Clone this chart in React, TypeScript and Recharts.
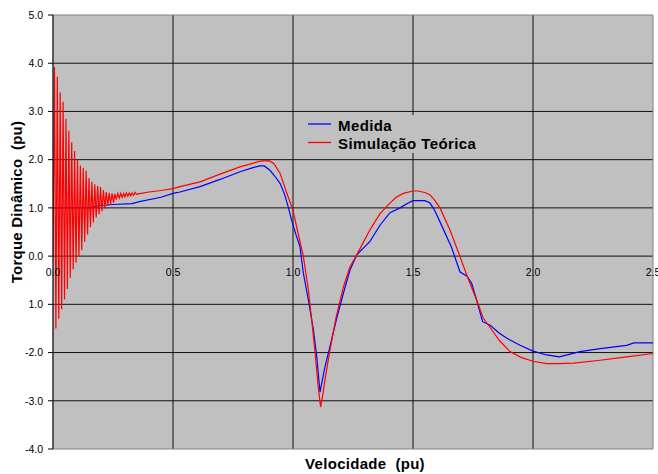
import React from "react";
import {
  LineChart,
  Line,
  XAxis,
  YAxis,
  CartesianGrid,
  ReferenceArea,
  Legend,
  Label,
} from "recharts";

// Velocidade (pu) x torque (pu)
const medida: [number, number][] = [
  [0, 1.0], [0.154, 1.0], [0.196, 1.05], [0.25, 1.07], [0.33, 1.09], [0.36, 1.13],
  [0.45, 1.22], [0.5, 1.3], [0.529, 1.33], [0.6125, 1.44], [0.696, 1.59], [0.779, 1.75],
  [0.83, 1.83], [0.8625, 1.87], [0.88, 1.87], [0.904, 1.78], [0.93, 1.62], [0.946, 1.51],
  [0.965, 1.28], [0.98, 1.02], [0.994, 0.75], [1.012, 0.45], [1.029, 0.2], [1.043, -0.35],
  [1.064, -0.91], [1.085, -1.53], [1.099, -2.09], [1.1125, -2.82], [1.133, -2.3],
  [1.154, -1.88], [1.18, -1.33], [1.21, -0.77], [1.2375, -0.29], [1.265, 0.02],
  [1.29, 0.15], [1.32, 0.3], [1.3625, 0.64], [1.404, 0.9], [1.446, 1.0], [1.48, 1.1],
  [1.5, 1.15], [1.55, 1.15], [1.571, 1.1], [1.59, 0.95], [1.6125, 0.71], [1.66, 0.19],
  [1.696, -0.33], [1.724, -0.41], [1.744, -0.56], [1.765, -0.91], [1.79, -1.36],
  [1.82, -1.43], [1.86, -1.6], [1.89, -1.7], [1.946, -1.85], [2.0, -1.97], [2.057, -2.05],
  [2.11, -2.09], [2.196, -1.98], [2.28, -1.92], [2.39, -1.85], [2.42, -1.8], [2.5, -1.8],
];

// partida: oscilação amortecida do torque simulado
const simulacaoPartida: [number, number][] = [
  [0, 0.0], [0.006, 3.92], [0.012, -1.5], [0.018, 3.72], [0.024, -1.3], [0.03, 3.4],
  [0.036, -1.1], [0.042, 3.2], [0.048, -0.9], [0.054, 2.85], [0.06, -0.68], [0.066, 2.6],
  [0.072, -0.45], [0.078, 2.36], [0.084, -0.28], [0.09, 2.18], [0.096, -0.14], [0.102, 2.0],
  [0.108, 0.0], [0.114, 1.88], [0.12, 0.12], [0.126, 1.83], [0.132, 0.3], [0.138, 1.77],
  [0.144, 0.45], [0.15, 1.62], [0.156, 0.6], [0.162, 1.54], [0.168, 0.7], [0.174, 1.49],
  [0.18, 0.8], [0.186, 1.46], [0.192, 0.87], [0.198, 1.43], [0.204, 0.93], [0.21, 1.37],
  [0.216, 0.99], [0.222, 1.33], [0.228, 1.04], [0.234, 1.31], [0.24, 1.08], [0.246, 1.3],
  [0.252, 1.11], [0.258, 1.29], [0.264, 1.17], [0.27, 1.3], [0.276, 1.2], [0.282, 1.3],
  [0.288, 1.22], [0.294, 1.3], [0.3, 1.23], [0.306, 1.31], [0.312, 1.24], [0.318, 1.31],
  [0.324, 1.25], [0.33, 1.31], [0.336, 1.26], [0.342, 1.32], [0.348, 1.28],
];

const simulacaoRegime: [number, number][] = [
  [0.354, 1.29], [0.4, 1.33], [0.45, 1.36], [0.5, 1.4], [0.529, 1.44], [0.6125, 1.54],
  [0.696, 1.7], [0.779, 1.85], [0.8625, 1.97], [0.9, 1.98], [0.92, 1.92], [0.946, 1.72],
  [0.974, 1.31], [1.0, 0.95], [1.02, 0.5], [1.043, 0.0], [1.064, -0.7], [1.078, -1.33],
  [1.092, -2.0], [1.105, -2.71], [1.115, -3.13], [1.125, -2.85], [1.133, -2.57],
  [1.154, -1.95], [1.18, -1.26], [1.21, -0.64], [1.2375, -0.22], [1.265, 0.02], [1.32, 0.54],
  [1.3625, 0.88], [1.404, 1.1], [1.43, 1.22], [1.46, 1.3], [1.5, 1.35], [1.52, 1.35],
  [1.55, 1.32], [1.571, 1.27], [1.59, 1.16], [1.6125, 1.0], [1.654, 0.54], [1.696, -0.01],
  [1.724, -0.39], [1.765, -0.91], [1.793, -1.29], [1.82, -1.47], [1.86, -1.75],
  [1.904, -1.98], [1.95, -2.1], [2.0, -2.18], [2.057, -2.23], [2.1, -2.23], [2.17, -2.22],
  [2.28, -2.16], [2.39, -2.09], [2.5, -2.02],
];

const xTicks = [0, 0.5, 1.0, 1.5, 2.0, 2.5];
const yTicks = [-4, -3, -2, -1, 0, 1, 2, 3, 4, 5];
const yTickLabels = ["-4.0", "-3.0", "-2.0", "1.0", "0.0", "1.0", "2.0", "3.0", "4.0", "5.0"];
const gridX = [0.5, 1.0, 1.5, 2.0];
const gridY = [-3, -2, -1, 0, 1, 2, 3, 4];

const W = 658;
const H = 474;
const TOP = 15;
const BOTTOM = 25;
const Y_MIN = -4;
const Y_MAX = 5;
const PLOT_H = H - TOP - BOTTOM;
const ZERO_Y = TOP + (PLOT_H * Y_MAX) / (Y_MAX - Y_MIN);

const FONT = '"Liberation Sans", Arial, sans-serif';

const toPoints = (rows: [number, number][]) => rows.map(([x, y]) => ({ x, y }));

// rótulos do eixo X ficam junto da linha do zero, como no Excel
const XTick = (props: any) => (
  <text x={props.x} y={ZERO_Y + 20} textAnchor="middle" fontFamily={FONT} fontSize={10.5} fill="#000">
    {Number(props.payload.value).toFixed(1)}
  </text>
);

const LegendBox = () => (
  <svg width={180} height={38} style={{ display: "block", background: "#C0C0C0" }}>
    <line x1={1} x2={24} y1={9} y2={9} stroke="#0000FF" strokeWidth={1.3} />
    <line x1={1} x2={24} y1={27.5} y2={27.5} stroke="#FF0000" strokeWidth={1.3} />
    <g fontFamily={FONT} fontSize={15} fontWeight="bold" fill="#000" letterSpacing={0.4}>
      <text x={31} y={16}>Medida</text>
      <text x={31} y={34}>Simulação Teórica</text>
    </g>
  </svg>
);

export default function App() {
  return (
    <div style={{ position: "absolute", left: 0, top: 0, background: "#fff" }}>
      <LineChart width={W} height={H} margin={{ top: TOP, right: 5, bottom: 0, left: 0 }}>
        <CartesianGrid
          fill="#C0C0C0"
          fillOpacity={1}
          stroke="#111"
          horizontalValues={gridY}
          verticalValues={gridX}
        />
        <ReferenceArea
          x1={0}
          x2={2.5}
          y1={Y_MIN}
          y2={Y_MAX}
          fill="none"
          stroke="#808080"
          strokeWidth={1}
        />
        <XAxis
          dataKey="x"
          type="number"
          domain={[0, 2.5]}
          ticks={xTicks}
          height={BOTTOM}
          axisLine={false}
          tickLine={false}
          tick={XTick}
          interval={0}
          allowDataOverflow
        >
          <Label
            content={() => (
              <text
                x={365}
                y={469}
                textAnchor="middle"
                fontFamily={FONT}
                fontSize={15}
                fontWeight="bold"
                letterSpacing={0.3}
                style={{ whiteSpace: "pre" }}
              >
                {"Velocidade  (pu)"}
              </text>
            )}
          />
        </XAxis>
        <YAxis
          type="number"
          width={53}
          domain={[Y_MIN, Y_MAX]}
          ticks={yTicks}
          interval={0}
          tickSize={5}
          tickMargin={5}
          axisLine={{ stroke: "#000" }}
          tickLine={{ stroke: "#000" }}
          tick={{ fontFamily: FONT, fontSize: 10.5, fill: "#000" }}
          tickFormatter={(v: number) => yTickLabels[yTicks.indexOf(v)]}
        >
          <Label
            content={() => (
              <text
                x={21.5}
                y={202}
                transform="rotate(-90, 21.5, 202)"
                textAnchor="middle"
                fontFamily={FONT}
                fontSize={15}
                fontWeight="bold"
                letterSpacing={0.2}
                style={{ whiteSpace: "pre" }}
              >
                {"Torque Dinâmico  (pu)"}
              </text>
            )}
          />
        </YAxis>
        <Legend
          layout="horizontal"
          verticalAlign="middle"
          align="center"
          content={<LegendBox />}
          wrapperStyle={{ left: 307, top: 115, width: 180, height: 38 }}
        />
        <Line
          name="Medida"
          data={toPoints(medida)}
          dataKey="y"
          type="linear"
          stroke="#0000FF"
          strokeWidth={1.2}
          dot={false}
          isAnimationActive={false}
        />
        <Line
          name="Simulação Teórica"
          data={toPoints([...simulacaoPartida, ...simulacaoRegime])}
          dataKey="y"
          type="linear"
          stroke="#FF0000"
          strokeWidth={1.2}
          dot={false}
          isAnimationActive={false}
        />
      </LineChart>
    </div>
  );
}
